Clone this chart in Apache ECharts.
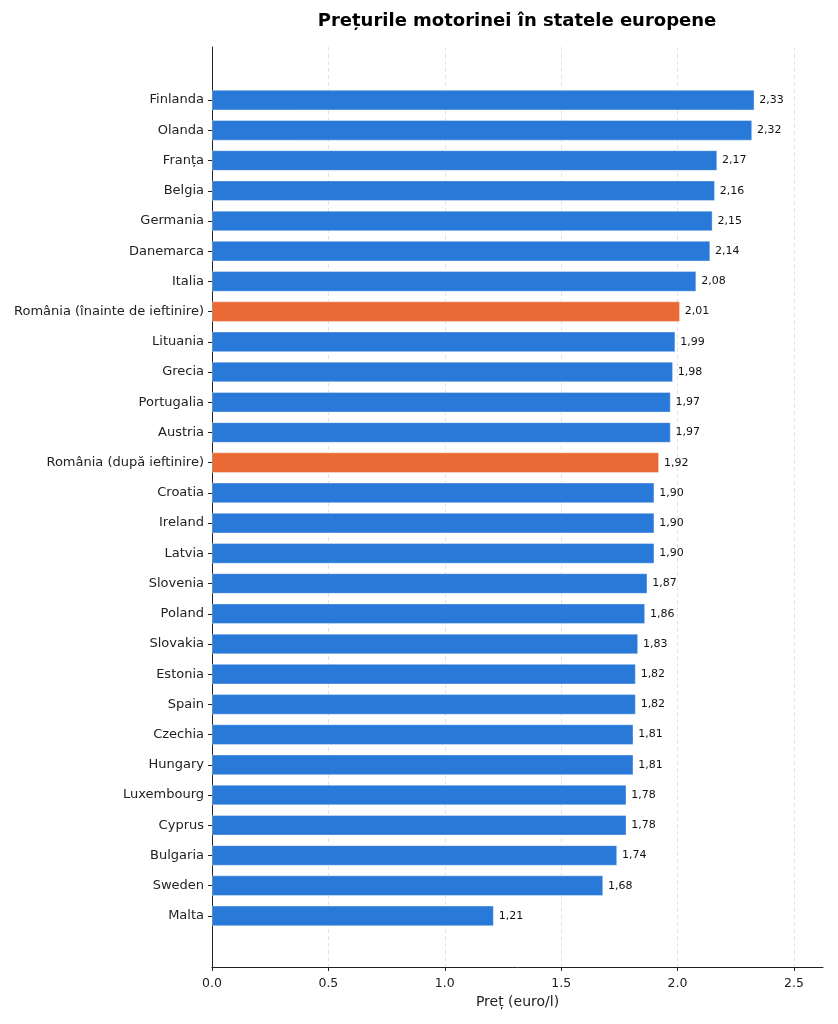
<!DOCTYPE html>
<html>
<head>
<meta charset="utf-8">
<script src="https://cdn.jsdelivr.net/npm/echarts@6/dist/echarts.min.js"></script>
<style>html,body{margin:0;padding:0;background:#fff}#c{width:838px;height:1024px}</style>
</head>
<body>
<div id="c"></div>
<script>
const categories = ["Finlanda","Olanda","Franța","Belgia","Germania","Danemarca","Italia","România (înainte de ieftinire)","Lituania","Grecia","Portugalia","Austria","România (după ieftinire)","Croatia","Ireland","Latvia","Slovenia","Poland","Slovakia","Estonia","Spain","Czechia","Hungary","Luxembourg","Cyprus","Bulgaria","Sweden","Malta"];
const prices = [2.33,2.32,2.17,2.16,2.15,2.14,2.08,2.01,1.99,1.98,1.97,1.97,1.92,1.90,1.90,1.90,1.87,1.86,1.83,1.82,1.82,1.81,1.81,1.78,1.78,1.74,1.68,1.21];
const xTicks = [0, 0.5, 1.0, 1.5, 2.0, 2.5];
const highlighted = ["România (înainte de ieftinire)","România (după ieftinire)"];

const BLUE = '#2979d9', ORANGE = '#ea6a36';
const FONT = 'DejaVu Sans';
const chart = echarts.init(document.getElementById('c'));
chart.setOption({
  animation: false,
  graphic: [{
    type: 'text', x: 517, y: 12,
    style: {
      text: 'Prețurile motorinei în statele europene',
      font: 'bold 18px "DejaVu Sans"', fill: '#000', textAlign: 'center', textVerticalAlign: 'top'
    }
  }],
  grid: [
    {left: 212, right: 15, top: 47, bottom: 57},
    {left: 212, right: 15, top: 85, bottom: 93}
  ],
  xAxis: [
    {
      type: 'value', gridIndex: 0, min: 0, max: 2.625, interval: 0.5,
      name: 'Preț (euro/l)', nameLocation: 'middle', nameGap: 28,
      nameTextStyle: {fontFamily: FONT, fontSize: 14, color: '#222'},
      axisLine: {show: true, lineStyle: {color: '#222', width: 1}},
      axisTick: {show: true, length: 4, customValues: xTicks, lineStyle: {color: '#222'}},
      axisLabel: {fontFamily: FONT, fontSize: 12.5, color: '#222', margin: 10,
        customValues: xTicks, formatter: v => v.toFixed(1)},
      splitLine: {show: true, lineStyle: {color: '#dcdcdc', type: [4, 3], width: 0.8}}
    },
    {
      type: 'value', gridIndex: 1, min: 0, max: 2.625, show: false
    }
  ],
  yAxis: [
    {
      type: 'value', gridIndex: 0, min: 0, max: 1,
      axisLine: {show: true, lineStyle: {color: '#222', width: 1}},
      axisTick: {show: false}, axisLabel: {show: false}, splitLine: {show: false}
    },
    {
      type: 'category', gridIndex: 1, data: categories, inverse: true,
      axisLine: {show: false},
      axisTick: {show: true, length: 4, alignWithLabel: true, lineStyle: {color: '#222'}},
      axisLabel: {fontFamily: FONT, fontSize: 13, color: '#222', margin: 8},
      splitLine: {show: false}
    }
  ],
  series: [{
    type: 'bar', xAxisIndex: 1, yAxisIndex: 1,
    barCategoryGap: '33%',
    data: prices.map((v, i) => ({
      value: v,
      itemStyle: {color: highlighted.includes(categories[i]) ? ORANGE : BLUE}
    })),
    itemStyle: {borderColor: 'rgba(255,255,255,0.6)', borderWidth: 0.6},
    label: {
      show: true, position: 'right', distance: 5,
      fontFamily: FONT, fontSize: 11, color: '#111',
      formatter: p => p.value.toFixed(2).replace('.', ',')
    }
  }]
});
</script>
</body>
</html>
